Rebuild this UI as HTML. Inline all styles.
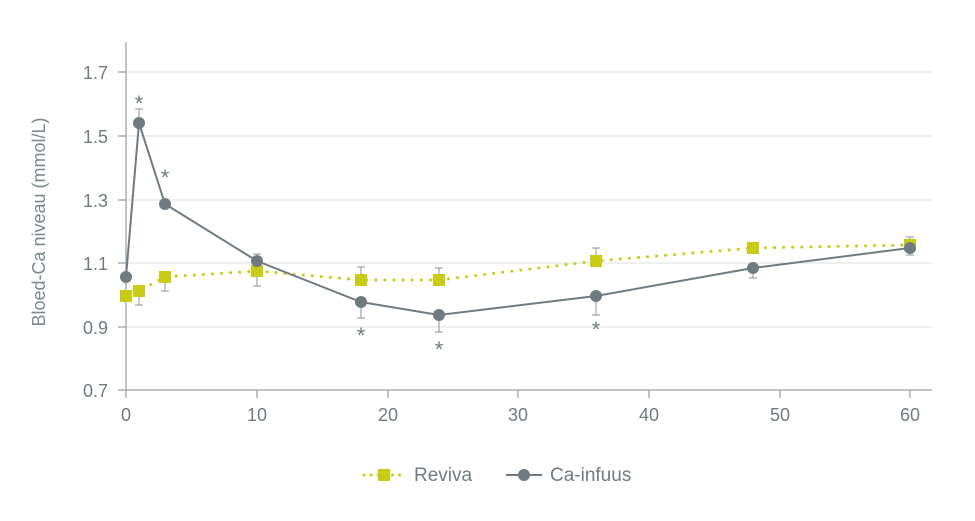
<!DOCTYPE html>
<html><head><style>body{margin:0;background:#fff}</style></head><body>
<svg width="975" height="516" viewBox="0 0 975 516" xmlns="http://www.w3.org/2000/svg" font-family="Liberation Sans, sans-serif">
<g stroke="#dcdfe0" stroke-width="1">
<line x1="126" y1="72" x2="932" y2="72"/><line x1="126" y1="136" x2="932" y2="136"/><line x1="126" y1="200" x2="932" y2="200"/><line x1="126" y1="263" x2="932" y2="263"/><line x1="126" y1="327" x2="932" y2="327"/>
</g>
<g stroke="#9aa3a6" stroke-width="1.3">
<line x1="126" y1="42" x2="126" y2="398"/><line x1="118" y1="390" x2="932" y2="390"/>
<line x1="257" y1="390" x2="257" y2="398"/><line x1="388" y1="390" x2="388" y2="398"/><line x1="518" y1="390" x2="518" y2="398"/><line x1="649" y1="390" x2="649" y2="398"/><line x1="780" y1="390" x2="780" y2="398"/><line x1="910" y1="390" x2="910" y2="398"/>
<line x1="118" y1="72" x2="126" y2="72"/><line x1="118" y1="136" x2="126" y2="136"/><line x1="118" y1="200" x2="126" y2="200"/><line x1="118" y1="263" x2="126" y2="263"/><line x1="118" y1="327" x2="126" y2="327"/>
</g>
<g fill="#6f7b80" font-size="18" text-anchor="end">
<text x="108" y="79">1.7</text><text x="108" y="143">1.5</text><text x="108" y="207">1.3</text><text x="108" y="270">1.1</text><text x="108" y="334">0.9</text><text x="108" y="397">0.7</text>
</g>
<g fill="#6f7b80" font-size="18" text-anchor="middle">
<text x="126" y="421">0</text><text x="257" y="421">10</text><text x="388" y="421">20</text><text x="518" y="421">30</text><text x="649" y="421">40</text><text x="780" y="421">50</text><text x="910" y="421">60</text>
</g>
<text transform="translate(45,222) rotate(-90)" fill="#7a878c" font-size="18" text-anchor="middle">Bloed-Ca niveau (mmol/L)</text>
<g stroke="#8a9599" stroke-width="1">
<path d="M139 123V109M135 109H143 M139 291V305M135 305H143 M165 277V291M161 291H169 M257 271V286M253 286H261 M257 261V254M253 254H261 M361 302V318M357 318H365 M361 280V267M357 267H365 M439 315V332M435 332H443 M439 280V268M435 268H443 M596 261V248M592 248H600 M596 296V315M592 315H600 M753 268V278M749 278H757 M910 248V255M906 255H914 M910 245V237M906 237H914"/>
</g>
<polyline points="126,296 139,291 165,277 257,271 361,280 439,280 596,261 753,248 910,245" fill="none" stroke="#c8cc14" stroke-width="3" stroke-dasharray="0.1,9" stroke-linecap="round"/>
<g fill="#c8cc14">
<rect x="120" y="290" width="12" height="12"/><rect x="133" y="285" width="12" height="12"/><rect x="159" y="271" width="12" height="12"/><rect x="251" y="265" width="12" height="12"/><rect x="355" y="274" width="12" height="12"/><rect x="433" y="274" width="12" height="12"/><rect x="590" y="255" width="12" height="12"/><rect x="747" y="242" width="12" height="12"/><rect x="904" y="239" width="12" height="12"/>
</g>
<polyline points="126,277 139,123 165,204 257,261 361,302 439,315 596,296 753,268 910,248" fill="none" stroke="#6f7b80" stroke-width="2"/>
<g fill="#6f7b80">
<circle cx="126" cy="277" r="6"/><circle cx="139" cy="123" r="6"/><circle cx="165" cy="204" r="6"/><circle cx="257" cy="261" r="6"/><circle cx="361" cy="302" r="6"/><circle cx="439" cy="315" r="6"/><circle cx="596" cy="296" r="6"/><circle cx="753" cy="268" r="6"/><circle cx="910" cy="248" r="6"/>
</g>
<g fill="#6f7b80" font-size="22" text-anchor="middle">
<text x="139" y="111">*</text><text x="165" y="185">*</text><text x="361" y="343">*</text><text x="439" y="357">*</text><text x="596" y="337">*</text>
</g>
<line x1="364" y1="475" x2="404" y2="475" stroke="#c8cc14" stroke-width="3" stroke-dasharray="0.1,7" stroke-linecap="round"/>
<rect x="378" y="469" width="12" height="12" fill="#c8cc14"/>
<text x="414" y="481" fill="#6f7b80" font-size="19">Reviva</text>
<line x1="506" y1="475" x2="542" y2="475" stroke="#6f7b80" stroke-width="2"/>
<circle cx="524" cy="475" r="6" fill="#6f7b80"/>
<text x="550" y="481" fill="#6f7b80" font-size="19">Ca-infuus</text>
</svg>
</body></html>
